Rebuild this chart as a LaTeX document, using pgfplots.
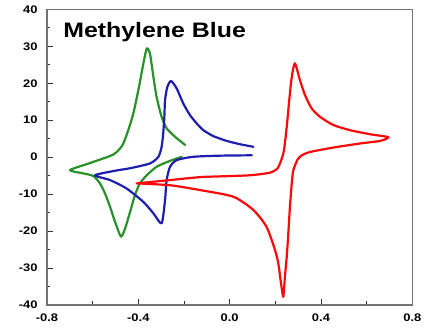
\documentclass[border=0pt]{standalone}
\usepackage{pgfplots}
\pgfplotsset{compat=1.18}
\usepackage{fontspec}
\setmainfont{Liberation Sans}
\usepackage{graphicx}
\definecolor{cvgreen}{RGB}{40,145,40}
\definecolor{cvblue}{RGB}{30,30,175}
\definecolor{cvred}{RGB}{250,10,10}
\begin{document}
\begin{tikzpicture}
\begin{axis}[
 at={(0,0)}, anchor=south west,
 scale only axis, width=365.3bp, height=295.7bp,
 xmin=-0.8, xmax=0.8, ymin=-40, ymax=40,
 xtick={-0.8,-0.4,0,0.4,0.8},
 xticklabels={\scalebox{1.18}[1]{-0.8},\scalebox{1.18}[1]{-0.4},\scalebox{1.18}[1]{0.0},\scalebox{1.18}[1]{0.4},\scalebox{1.18}[1]{0.8}},
 minor xtick={-0.6,-0.2,0.2,0.6},
 ytick={-40,-30,...,40},
 minor ytick={-35,-25,...,35},
 yticklabel={\scalebox{1.18}[1]{\pgfmathprintnumber{\tick}}},
 /pgf/number format/assume math mode=true,
 tick align=inside, xtick pos=bottom, ytick pos=left,
 major tick length=6bp, minor tick length=3.5bp,
 axis line style={black!55, line width=1.1bp},
 every tick/.append style={black!80, line width=0.9bp},
 tick label style={font=\fontsize{11}{13}\selectfont\bfseries},
 xticklabel style={yshift=-5bp},
 yticklabel style={xshift=-6bp},
 clip=false,
]
% green
\addplot[cvgreen, line width=2.2bp, smooth, tension=0.4, line join=round, line cap=round] coordinates {
(-0.195,3.3) (-0.239,5.5) (-0.276,7.8) (-0.298,10.9) (-0.320,16.3) (-0.334,21.7)
(-0.349,28.0) (-0.363,29.4) (-0.378,25.3) (-0.400,18.1) (-0.422,11.8) (-0.444,7.3)
(-0.470,3.2) (-0.510,0.7) (-0.612,-1.6) (-0.699,-3.5)
(-0.641,-4.4) (-0.597,-5.1) (-0.568,-7.1) (-0.546,-9.8) (-0.524,-13.4) (-0.502,-17.5)
(-0.476,-21.5) (-0.458,-19.3) (-0.436,-14.8) (-0.415,-10.3) (-0.393,-7.1) (-0.363,-4.9)
(-0.320,-2.6) (-0.261,-1.0) (-0.210,0.1)
};
% blue
\addplot[cvblue, line width=2.2bp, smooth, tension=0.4, line join=round, line cap=round] coordinates {
(0.104,2.8) (0.045,3.5) (-0.013,4.4) (-0.072,5.7) (-0.115,7.3) (-0.144,9.1) (-0.174,11.4)
(-0.203,14.5) (-0.232,18.6) (-0.257,20.6) (-0.273,19.0) (-0.283,15.4) (-0.286,10.9)
(-0.291,6.4) (-0.298,2.8) (-0.312,0.1) (-0.349,-1.7) (-0.436,-3.0) (-0.495,-3.6) (-0.590,-4.9)
(-0.524,-6.2) (-0.451,-8.5) (-0.378,-12.1) (-0.334,-15.2) (-0.298,-17.9)
(-0.283,-11.6) (-0.276,-6.2) (-0.261,-2.6) (-0.232,-0.8) (-0.159,0.1) (-0.042,0.4) (0.097,0.5)
};
% red
\addplot[cvred, line width=2.2bp, smooth, tension=0.4, line join=round, line cap=round] coordinates {
(-0.407,-7.1) (-0.261,-6.2) (-0.130,-5.4) (-0.042,-5.2) (0.089,-4.9) (0.177,-4.2) (0.209,-3.1)
(0.226,-0.8) (0.238,1.9) (0.250,8.2) (0.261,15.4) (0.272,21.7) (0.286,25.4)
(0.308,20.8) (0.330,16.8) (0.359,13.2) (0.396,10.9) (0.454,8.7) (0.527,7.3)
(0.615,6.2) (0.695,5.4) (0.659,4.4) (0.571,3.7) (0.454,2.6) (0.352,1.4)
(0.316,0.5) (0.298,-0.6) (0.279,-3.5) (0.272,-7.1) (0.264,-13.4) (0.257,-20.6)
(0.250,-26.9) (0.242,-32.4) (0.235,-37.8) (0.225,-34.1) (0.213,-28.7) (0.199,-25.2)
(0.162,-18.9) (0.104,-14.3) (0.016,-10.7) (-0.130,-8.9) (-0.261,-7.6) (-0.407,-7.1)
};
\node[anchor=base west, inner sep=0, font=\fontsize{21}{24}\selectfont\bfseries] at (rel axis cs:0.044,0.903) {\scalebox{1.19}[1]{Methylene Blue}};
\end{axis}
\pgfresetboundingbox
\path[use as bounding box] (-47bp,-23bp) rectangle (379bp,305bp);
\end{tikzpicture}
\end{document}
